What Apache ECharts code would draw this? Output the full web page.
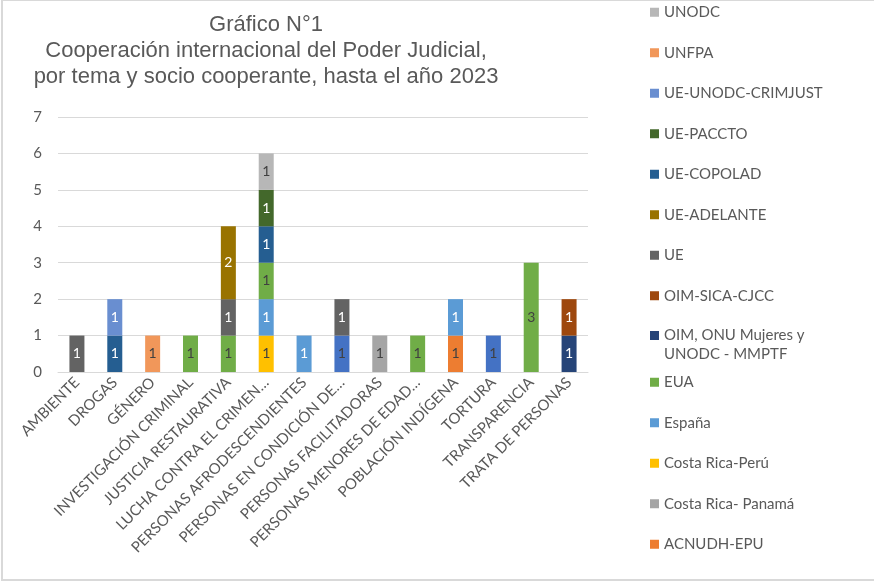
<!DOCTYPE html>
<html>
<head>
<meta charset="utf-8" />
<title>Gráfico N°1</title>
<style>
  html, body { margin: 0; padding: 0; background: #fff; overflow: hidden; }
  #frame {
    position: absolute; left: 1px; top: -1px; width: 890px; height: 582px;
    border: 2px solid #d9d9d9; box-sizing: border-box;
  }
  #chart { position: absolute; left: 0; top: 0; width: 874px; height: 584px; }
</style>
</head>
<body>
<div id="frame"></div>
<div id="chart"></div>
<script src="https://cdn.jsdelivr.net/npm/echarts@6/dist/echarts.min.js"></script>
<script>
// categorías (etiquetas del eje X, tal como se ven)
var temas = ['AMBIENTE', 'DROGAS', 'GÉNERO', 'INVESTIGACIÓN CRIMINAL', 'JUSTICIA RESTAURATIVA',
  'LUCHA CONTRA EL CRIMEN…', 'PERSONAS AFRODESCENDIENTES', 'PERSONAS EN CONDICIÓN DE…',
  'PERSONAS FACILITADORAS', 'PERSONAS MENORES DE EDAD…', 'POBLACIÓN INDÍGENA', 'TORTURA',
  'TRANSPARENCIA', 'TRATA DE PERSONAS'];

// valores por socio cooperante (null = sin proyecto)
var otros       = [null, null, null, null, null, null, null, 1, null, null, null, 1, null, null];
var acnudhEpu   = [null, null, null, null, null, null, null, null, null, null, 1, null, null, null];
var crPanama    = [null, null, null, null, null, null, null, null, 1, null, null, null, null, null];
var crPeru      = [null, null, null, null, null, 1, null, null, null, null, null, null, null, null];
var espana      = [null, null, null, null, null, 1, 1, null, null, null, 1, null, null, null];
var eua         = [null, null, null, 1, 1, 1, null, null, null, 1, null, null, 3, null];
var oimMmptf    = [null, null, null, null, null, null, null, null, null, null, null, null, null, 1];
var oimSica     = [null, null, null, null, null, null, null, null, null, null, null, null, null, 1];
var ue          = [1, null, null, null, 1, null, null, 1, null, null, null, null, null, null];
var ueAdelante  = [null, null, null, null, 2, null, null, null, null, null, null, null, null, null];
var ueCopolad   = [null, 1, null, null, null, 1, null, null, null, null, null, null, null, null];
var uePaccto    = [null, null, null, null, null, 1, null, null, null, null, null, null, null, null];
var ueCrimjust  = [null, 1, null, null, null, null, null, null, null, null, null, null, null, null];
var unfpa       = [null, null, 1, null, null, null, null, null, null, null, null, null, null, null];
var unodc       = [null, null, null, null, null, 1, null, null, null, null, null, null, null, null];

var yTicks = [0, 1, 2, 3, 4, 5, 6, 7];

var _font = 'Lato, "Open Sans", sans-serif';
var _gris = '#595959';

// nombre, datos, color de barra, color de etiqueta
var socios = [
  ['Otros', otros, '#4472c4', '#404040'],
  ['ACNUDH-EPU', acnudhEpu, '#ed7d31', '#404040'],
  ['Costa Rica- Panamá', crPanama, '#a5a5a5', '#404040'],
  ['Costa Rica-Perú', crPeru, '#ffc000', '#404040'],
  ['España', espana, '#5b9bd5', '#ffffff'],
  ['EUA', eua, '#70ad47', '#404040'],
  ['OIM, ONU Mujeres y UNODC - MMPTF', oimMmptf, '#264478', '#ffffff'],
  ['OIM-SICA-CJCC', oimSica, '#9e480e', '#ffffff'],
  ['UE', ue, '#636363', '#ffffff'],
  ['UE-ADELANTE', ueAdelante, '#997300', '#ffffff'],
  ['UE-COPOLAD', ueCopolad, '#255e91', '#ffffff'],
  ['UE-PACCTO', uePaccto, '#43682b', '#ffffff'],
  ['UE-UNODC-CRIMJUST', ueCrimjust, '#698ed0', '#ffffff'],
  ['UNFPA', unfpa, '#f1975a', '#404040'],
  ['UNODC', unodc, '#b7b7b7', '#404040']
];

var series = socios.map(function (s) {
  return {
    name: s[0],
    type: 'bar',
    stack: 'total',
    barWidth: 15,
    itemStyle: { color: s[2] },
    label: {
      show: true,
      position: 'inside',
      color: s[3],
      fontSize: 14,
      fontFamily: _font
    },
    emphasis: { disabled: true },
    data: s[1]
  };
});

// leyenda: mismo orden que la original (de arriba hacia abajo), sin "Otros"
var legendData = socios.slice(1).reverse().map(function (s) { return s[0]; });

var legendText = { fontFamily: _font, fontSize: 15, color: _gris };

var myChart = echarts.init(document.getElementById('chart'));
myChart.setOption({
  animation: false,
  title: {
    text: 'Gráfico N°1\nCooperación internacional del Poder Judicial,\npor tema y socio cooperante, hasta el año 2023',
    left: 261,
    top: 7,
    textAlign: 'center',
    textStyle: {
      fontFamily: '"Liberation Sans", Arial, sans-serif',
      fontSize: 22,
      fontWeight: 'normal',
      color: _gris,
      lineHeight: 26,
      align: 'center'
    }
  },
  legend: {
    orient: 'vertical',
    left: 650,
    top: -8,
    height: 600,
    padding: 0,
    itemGap: 0,
    itemWidth: 9,
    itemHeight: 9,
    icon: 'rect',
    selectedMode: false,
    formatter: function (name) {
      // el texto largo se parte en dos líneas, como en Excel
      if (name.indexOf('MMPTF') >= 0) {
        return '{a|OIM, ONU Mujeres y}\n{b|UNODC - MMPTF}';
      }
      return name;
    },
    textStyle: {
      fontFamily: _font,
      fontSize: 15,
      color: _gris,
      lineHeight: 40.5,
      rich: {
        a: Object.assign({ lineHeight: 38 }, legendText),
        b: Object.assign({ lineHeight: 1 }, legendText)
      }
    },
    data: legendData
  },
  grid: {
    left: 58,
    right: 286,
    top: 117,
    bottom: 212,
    containLabel: false
  },
  xAxis: {
    type: 'category',
    data: temas,
    axisTick: { show: false },
    axisLine: { lineStyle: { color: '#d9d9d9', width: 1 } },
    axisLabel: {
      interval: 0,
      rotate: 45,
      margin: 8,
      fontSize: 15,
      fontFamily: _font,
      color: _gris
    }
  },
  yAxis: {
    type: 'value',
    min: yTicks[0],
    max: yTicks[yTicks.length - 1],
    interval: 1,
    axisLine: { show: false },
    axisTick: { show: false },
    splitLine: { lineStyle: { color: '#d9d9d9', width: 1 } },
    axisLabel: {
      margin: 16,
      fontSize: 15,
      fontFamily: _font,
      color: _gris
    }
  },
  series: series
});
</script>
</body>
</html>
